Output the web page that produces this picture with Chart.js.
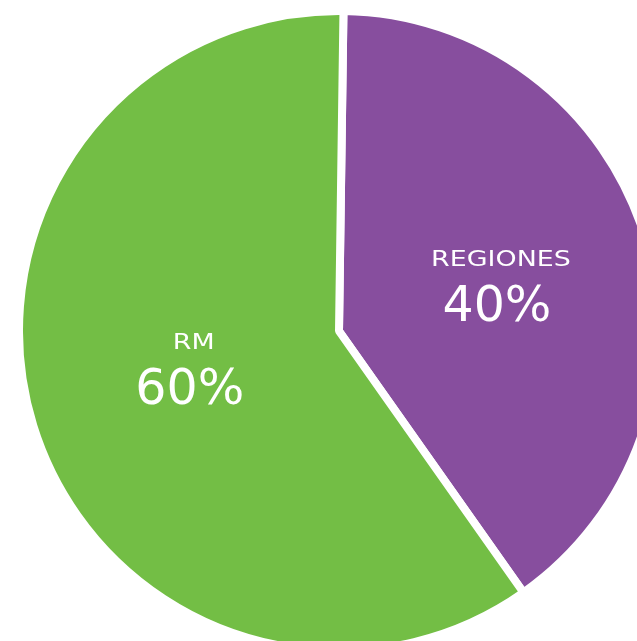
<!DOCTYPE html>
<html>
<head>
<meta charset="utf-8">
<script src="https://cdn.jsdelivr.net/npm/chart.js@4"></script>
<style>
  html, body { margin: 0; padding: 0; background: #fff; overflow: hidden; }
  #wrap { width: 637px; height: 641px; position: relative; }
</style>
</head>
<body>
<div id="wrap"><canvas id="pieChart"></canvas></div>
<script>
const sliceLabels = ['REGIONES', 'RM'];
const sliceValues = [40, 60];
const sliceColors = ['#874E9E', '#73BE45'];

// name + percent written inside each slice
const sliceText = {
    id: 'sliceText',
    afterDatasetsDraw(chart) {
        const ctx = chart.ctx;
        const meta = chart.getDatasetMeta(0);
        const total = sliceValues.reduce((a, b) => a + b, 0);
        const dist = [0.52, 0.475];
        const shiftX = [-1, -4];
        const shiftY = [5, -6];
        meta.data.forEach(function(arc, i) {
            const p = arc.getProps(['x', 'y', 'startAngle', 'endAngle', 'outerRadius'], true);
            const mid = (p.startAngle + p.endAngle) / 2;
            const cx = p.x + Math.cos(mid) * p.outerRadius * dist[i] + shiftX[i];
            const cy = p.y + Math.sin(mid) * p.outerRadius * dist[i] + shiftY[i];
            ctx.save();
            ctx.fillStyle = '#fff';
            ctx.textAlign = 'center';
            ctx.textBaseline = 'alphabetic';
            ctx.font = '21px "DejaVu Sans"';
            ctx.save();
            ctx.translate(cx + 4, cy - 21);
            ctx.scale(1.28, 1);
            ctx.fillText(sliceLabels[i], 0, 0);
            ctx.restore();
            ctx.font = '49px "DejaVu Sans"';
            ctx.fillText(Math.round(sliceValues[i] / total * 100) + '%', cx, cy + 34);
            ctx.restore();
        });
    }
};

const pieCtx = document.getElementById('pieChart').getContext('2d');

new Chart(pieCtx, {
    type: 'pie',
    data: {
        labels: sliceLabels,
        datasets: [{
            data: sliceValues,
            backgroundColor: sliceColors,
            borderColor: '#ffffff',
            borderWidth: 8
        }]
    },
    options: {
        responsive: true,
        maintainAspectRatio: false,
        animation: false,
        rotation: 0.8,
        radius: 320,
        layout: {
            padding: { left: 41, top: 21, right: 0, bottom: 0 }
        },
        plugins: {
            legend: { display: false },
            tooltip: { enabled: false }
        }
    },
    plugins: [sliceText]
});
</script>
</body>
</html>
